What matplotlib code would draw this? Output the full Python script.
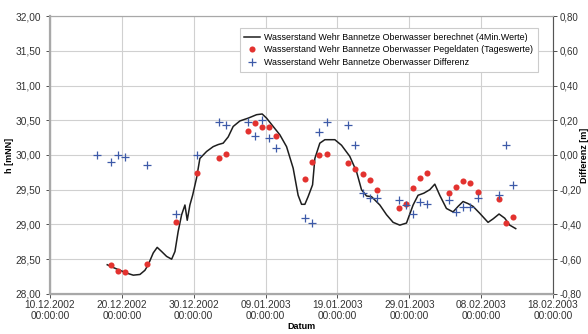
import datetime as dt
import numpy as np
import matplotlib
matplotlib.use("Agg")
import matplotlib.pyplot as plt
from matplotlib.ticker import FuncFormatter, MultipleLocator

plt.rcParams['font.family'] = ['Liberation Sans', 'DejaVu Sans']
plt.rcParams['axes.unicode_minus'] = False

start = dt.datetime(2002, 12, 10)

# berechnet (4 Min. Werte), Tage ab 10.12.2002
calc_day = [7.97, 8.80, 9.74, 10.67, 11.59, 12.52, 13.21, 13.67, 14.37, 14.92,
            15.54, 16.23, 16.93, 17.39, 17.84, 18.32, 18.78, 19.10, 19.47, 19.85,
            20.40, 20.86, 21.79, 22.71, 23.41, 24.10, 24.80, 25.49, 26.43, 27.58,
            28.75, 29.53, 30.14, 31.06, 31.99, 32.92, 33.84, 34.53, 35.01, 35.47,
            35.92, 36.54, 36.86, 37.55, 38.25, 39.64, 40.57, 41.72, 42.66, 43.35,
            44.05, 44.74, 45.90, 46.83, 47.75, 48.68, 49.61, 50.53, 51.22, 52.02,
            52.85, 53.55, 54.24, 55.17, 56.09, 56.79, 57.48, 58.18, 58.87, 59.81,
            60.96, 61.66, 62.49, 63.28, 63.98, 64.81]
calc_h = [28.42, 28.38, 28.34, 28.30, 28.27, 28.28, 28.34, 28.42, 28.59, 28.67,
          28.61, 28.54, 28.50, 28.61, 28.90, 29.14, 29.28, 29.06, 29.28, 29.42,
          29.67, 29.95, 30.05, 30.12, 30.15, 30.17, 30.26, 30.41, 30.49, 30.53,
          30.58, 30.59, 30.53, 30.41, 30.29, 30.12, 29.81, 29.42, 29.29, 29.29,
          29.40, 29.57, 29.95, 30.17, 30.22, 30.22, 30.14, 29.98, 29.76, 29.50,
          29.41, 29.40, 29.28, 29.14, 29.03, 28.99, 29.02, 29.28, 29.42, 29.45,
          29.50, 29.58, 29.42, 29.23, 29.18, 29.26, 29.33, 29.30, 29.26, 29.16,
          29.03, 29.08, 29.15, 29.09, 28.99, 28.94]

# Tageswerte
dates = ["16.12.2002", "18.12.2002", "19.12.2002", "20.12.2002", "23.12.2002",
         "27.12.2002", "30.12.2002", "02.01.2003", "03.01.2003", "06.01.2003",
         "07.01.2003", "08.01.2003", "09.01.2003", "10.01.2003", "14.01.2003",
         "15.01.2003", "16.01.2003", "17.01.2003", "20.01.2003", "21.01.2003",
         "22.01.2003", "23.01.2003", "24.01.2003", "27.01.2003", "28.01.2003",
         "29.01.2003", "30.01.2003", "31.01.2003", "03.02.2003", "04.02.2003",
         "05.02.2003", "06.02.2003", "07.02.2003", "10.02.2003", "11.02.2003",
         "12.02.2003"]
pegel = [np.nan, 28.42, 28.33, 28.31, 28.43, 29.03, 29.74, 29.95, 30.02, 30.34,
         30.46, 30.40, 30.40, 30.28, 29.66, 29.90, 30.00, 30.02, 29.88, 29.80,
         29.72, 29.64, 29.49, 29.24, 29.30, 29.52, 29.67, 29.74, 29.45, 29.54,
         29.63, 29.59, 29.46, 29.37, 29.02, 29.11]
diff = [0.00, -0.04, 0.00, -0.01, -0.06, -0.34, 0.00, 0.19, 0.17, 0.19,
        0.11, 0.20, 0.10, 0.04, -0.36, -0.39, 0.13, 0.19, 0.17, 0.06,
        -0.22, -0.25, -0.25, -0.26, -0.29, -0.34, -0.27, -0.28, -0.26, -0.33,
        -0.30, -0.30, -0.25, -0.23, 0.06, -0.17]

calc_t = [start + dt.timedelta(days=d) for d in calc_day]
day_t = [dt.datetime.strptime(s, "%d.%m.%Y") + dt.timedelta(hours=12) for s in dates]

fig = plt.figure(figsize=(5.88, 3.34), dpi=100)
ax = fig.add_axes([0.085, 0.12, 0.8555, 0.832])
ax2 = ax.twinx()

l1, = ax.plot(calc_t, calc_h, color='#1e1e1e', lw=1.1, zorder=3,
              label='Wasserstand Wehr Bannetze Oberwasser berechnet (4Min.Werte)')
l2, = ax.plot(day_t, pegel, 'o', color='#e3322f', ms=4.4, mec='none', zorder=4,
              label='Wasserstand Wehr Bannetze Oberwasser Pegeldaten (Tageswerte)')
l3, = ax2.plot(day_t, diff, '+', color='#3d5aa8', ms=6, mew=0.9,
               label='Wasserstand Wehr Bannetze Oberwasser Differenz')

ax.set_xlim(start, dt.datetime(2003, 2, 18))
ax.set_ylim(28, 32)
ax2.set_ylim(-0.8, 0.8)
ticks = [start + dt.timedelta(days=10 * i) for i in range(8)]
ax.set_xticks(ticks)
ax.set_xticklabels([t.strftime("%d.%m.%Y\n00:00:00") for t in ticks],
                   linespacing=1.05)
ax.yaxis.set_major_locator(MultipleLocator(0.5))
ax2.yaxis.set_major_locator(MultipleLocator(0.2))
comma = FuncFormatter(lambda v, p: f"{v:.2f}".replace('.', ','))
ax.yaxis.set_major_formatter(comma)
ax2.yaxis.set_major_formatter(comma)

ax.grid(True, color='#d0d0d0', lw=0.8)
ax.set_axisbelow(True)

for a in (ax, ax2):
    a.tick_params(labelsize=7.3, colors='#333333', length=3, width=0.6)
    for s in a.spines.values():
        s.set_color('#a8a8a8')
        s.set_linewidth(0.8)
ax.spines['left'].set_linewidth(1.6)
ax.spines['bottom'].set_linewidth(1.6)
ax2.spines['right'].set_color('#555555')
ax2.spines['right'].set_linewidth(0.8)
ax.tick_params(axis='x', pad=1.5)
ax2.tick_params(axis='y', pad=1.5, labelsize=7)

ax.set_ylabel('h [mNN]', fontsize=6.5, fontweight='bold', labelpad=1)
ax2.set_ylabel('Differenz [m]', fontsize=6.5, fontweight='bold')
ax2.yaxis.set_label_coords(1.053, 0.5)
ax.set_xlabel('Datum', fontsize=6.5, fontweight='bold', labelpad=1)

leg = ax2.legend(handles=[l1, l2, l3], loc='upper right',
                 bbox_to_anchor=(0.97, 0.957), borderaxespad=0,
                 fontsize=6.4, frameon=True,
                 fancybox=False, edgecolor='#cccccc', framealpha=1,
                 handlelength=1.7, handletextpad=0.5, borderpad=0.55,
                 labelspacing=0.4)
leg.get_frame().set_linewidth(0.8)

fig.savefig('out.png', dpi=100)
